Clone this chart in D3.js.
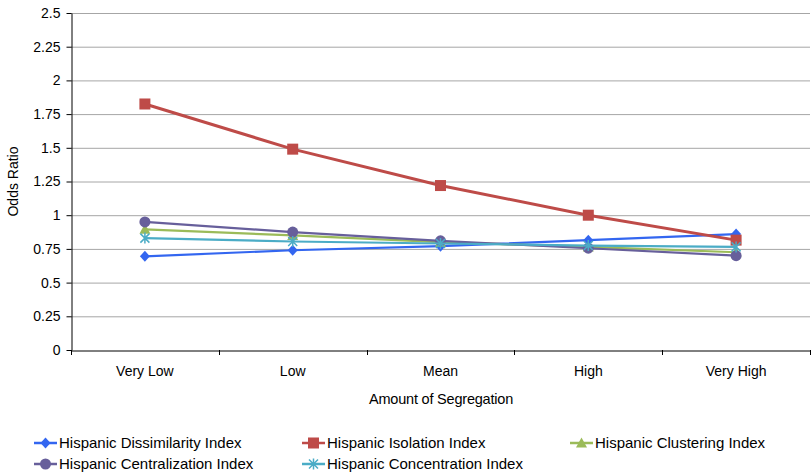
<!DOCTYPE html>
<html><head><meta charset="utf-8">
<script src="https://cdn.jsdelivr.net/npm/d3@7"></script>
<style>body{margin:0;background:#fff}svg{display:block;font-family:"Liberation Sans",Arial,sans-serif}</style>
</head><body><svg id="c" width="811" height="475"></svg>
<script>
const categories = ["Very Low","Low","Mean","High","Very High"];
const yTicks = [0,0.25,0.5,0.75,1,1.25,1.5,1.75,2,2.25,2.5];
const seriesNames = ["Hispanic Dissimilarity Index","Hispanic Isolation Index","Hispanic Clustering Index","Hispanic Centralization Index","Hispanic Concentration Index"];
const dissimilarity = [0.695,0.74,0.77,0.815,0.86];
const isolation = [1.825,1.49,1.22,1.0,0.815];
const clustering = [0.895,0.85,0.80,0.765,0.725];
const centralization = [0.95,0.875,0.81,0.755,0.70];
const concentration = [0.83,0.805,0.79,0.775,0.765];
const colors = ["#3366f0","#be4b48","#9bbb59","#675f9b","#4bacc6"];
const markers = ["diamond","square","triangle","circle","star"];

const series = [dissimilarity,isolation,clustering,centralization,concentration];
const svg = d3.select("#c");
const L=71,R=810,T=13,B=350;
const FONT="'Liberation Sans',Arial,sans-serif";
const x = d3.scaleBand().domain(categories).range([L,R]);
const y = d3.scaleLinear().domain([0,2.5]).range([B,T]);

svg.append("g").selectAll("line").data(yTicks.slice(1)).join("line")
  .attr("x1",L).attr("x2",R).attr("y1",d=>y(d)+0.5).attr("y2",d=>y(d)+0.5)
  .attr("stroke","#a6a6a6").attr("stroke-width",1);

const yAxis = svg.append("g").attr("transform",`translate(${L+0.5},0)`)
  .call(d3.axisLeft(y).tickValues(yTicks).tickFormat(d=>String(d)).tickSizeInner(5).tickSizeOuter(0).tickPadding(6));
yAxis.select(".domain").attr("stroke","#000");
yAxis.selectAll(".tick line").attr("stroke","#000");
yAxis.selectAll("text").attr("font-size",14).attr("fill","#000").style("font-family",FONT);

const xAxis = svg.append("g").attr("transform",`translate(0,${B+0.5})`)
  .call(d3.axisBottom(x).tickSize(0).tickPadding(16));
xAxis.select(".domain").attr("stroke","#000");
xAxis.selectAll("text").attr("font-size",14).attr("fill","#000").style("font-family",FONT);
const edges = categories.map(c=>x(c)).concat([R]);
svg.append("g").selectAll("line").data(edges).join("line")
  .attr("x1",d=>Math.round(d)+0.5).attr("x2",d=>Math.round(d)+0.5).attr("y1",B).attr("y2",B+5).attr("stroke","#000");

svg.append("text").attr("x",441).attr("y",404).attr("text-anchor","middle").attr("font-size",14.5).attr("letter-spacing","-0.2").text("Amount of Segregation");
svg.append("text").attr("transform",`translate(18,${(T+B)/2}) rotate(-90)`).attr("text-anchor","middle").attr("font-size",14).text("Odds Ratio");

function drawMarker(g,type,cx,cy,col){
  if(type==="diamond") g.append("path").attr("d",`M${cx},${cy-5.5}L${cx+5},${cy}L${cx},${cy+5.5}L${cx-5},${cy}Z`).attr("fill",col);
  else if(type==="square") g.append("rect").attr("x",cx-5.5).attr("y",cy-5.5).attr("width",11).attr("height",11).attr("fill",col);
  else if(type==="triangle") g.append("path").attr("d",`M${cx},${cy-5.5}L${cx+5.5},${cy+4.5}L${cx-5.5},${cy+4.5}Z`).attr("fill",col);
  else if(type==="circle") g.append("circle").attr("cx",cx).attr("cy",cy).attr("r",5.5).attr("fill",col);
  else if(type==="star"){
    const p=`M${cx-4.5},${cy-4.5}L${cx+4.5},${cy+4.5}M${cx+4.5},${cy-4.5}L${cx-4.5},${cy+4.5}M${cx},${cy-5.5}L${cx},${cy+5.5}`;
    g.append("path").attr("d",p).attr("stroke",col).attr("stroke-width",1.5).attr("fill","none");
  }
}

const line = d3.line().x((d,i)=>x(categories[i])+x.bandwidth()/2).y(d=>y(d));
series.forEach((s,k)=>{
  const g = svg.append("g");
  g.append("path").datum(s).attr("d",line).attr("fill","none").attr("stroke",colors[k]).attr("stroke-width",k===1?3:2.2);
  s.forEach((v,i)=>drawMarker(g,markers[k],x(categories[i])+x.bandwidth()/2,y(v),colors[k]));
});

const legPos = [[34,443],[302,443],[570,443],[34,464],[302,464]];
seriesNames.forEach((n,k)=>{
  const [lx,ly]=legPos[k];
  const g=svg.append("g");
  g.append("line").attr("x1",lx).attr("x2",lx+23).attr("y1",ly).attr("y2",ly).attr("stroke",colors[k]).attr("stroke-width",2.5);
  drawMarker(g,markers[k],lx+11.5,ly,colors[k]);
  g.append("text").attr("x",lx+25).attr("y",ly+5).attr("font-size",15).text(n);
});
</script></body></html>
